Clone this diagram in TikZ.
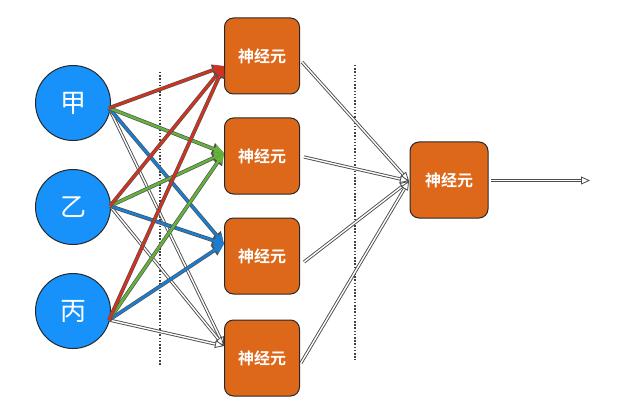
\documentclass[tikz,border=0pt]{standalone}
\usepackage{fontspec}
\newfontfamily\cjk{Noto Sans CJK SC}
\newfontfamily\cjkb{Noto Sans CJK SC Bold}
\usetikzlibrary{arrows.meta}
\definecolor{cblue}{RGB}{22,146,250}
\definecolor{borange}{RGB}{222,104,26}
\definecolor{ared}{RGB}{210,50,30}
\definecolor{agreen}{RGB}{100,180,60}
\definecolor{ablue}{RGB}{25,125,210}
\definecolor{edge}{RGB}{40,40,40}
\tikzset{
  inp/.style={circle,draw=edge,line width=1pt,fill=cblue,minimum size=75pt,inner sep=0pt,text=white,font=\cjk\fontsize{26}{26}\selectfont},
  neu/.style={rounded corners=9pt,draw=edge,line width=1pt,fill=borange,minimum width=75pt,minimum height=76pt,inner sep=0pt,text=white,font=\cjkb\fontsize{16}{16}\selectfont},
  col/.style={preaction={draw=edge!80,line width=3.8pt,-{Triangle[length=12pt,width=11pt]}},draw=#1,line width=2.4pt,-{Triangle[length=10pt,width=9pt,fill=#1]}},
  wht/.style={double=white,draw=gray!60!black,line width=0.9pt,double distance=1.4pt,-{Triangle[open,length=9pt,width=8pt,fill=white,line width=0.8pt]}},
  sep/.style={draw=gray!50!black,line width=1.3pt,dash pattern=on 1.5pt off 1.7pt},
}
\begin{document}
\begin{tikzpicture}[x=1pt,y=-1pt]
\useasboundingbox (0,0) rectangle (630,404);
\node[inp] (a) at (73,103) {甲};
\node[inp] (b) at (73,207) {乙};
\node[inp] (c) at (73,311) {丙};
\node[neu] (n1) at (262,56) {神经元};
\node[neu] (n2) at (262,156) {神经元};
\node[neu] (n3) at (262,256) {神经元};
\node[neu] (n4) at (262,358) {神经元};
\node[neu,minimum width=78pt] (o) at (449,180) {神经元};
\coordinate (sa) at (109,108);
\coordinate (sb) at (110,206);
\coordinate (sc) at (109,320);
\coordinate (t1) at (224,66);
\coordinate (t2) at (224,153);
\coordinate (t3) at (224,244);
\coordinate (t4) at (224,346);
\coordinate (u1) at (302,62);
\coordinate (u2) at (304,157);
\coordinate (u3) at (304,262);
\coordinate (u4) at (301,363);
\coordinate (to) at (409,181);
\coordinate (ostart) at (491,180.5);
\coordinate (fin) at (590,180.5);
\coordinate (d1a) at (160,72);
\coordinate (d1b) at (160,366);
\coordinate (d2a) at (355,65);
\coordinate (d2b) at (355,360);
\draw[sep] (d1a) -- (d1b);
\draw[sep] (d2a) -- (d2b);
\foreach \s in {sa,sb,sc} \draw[wht] (\s) -- (t4);
\foreach \s in {sa,sb,sc} \draw[col=ablue] (\s) -- (t3);
\foreach \s in {sa,sb,sc} \draw[col=agreen] (\s) -- (t2);
\foreach \s in {sa,sb,sc} \draw[col=ared] (\s) -- (t1);
\foreach \s in {u1,u2,u3,u4} \draw[wht] (\s) -- (to);
\draw[wht] (ostart) -- (fin);
\end{tikzpicture}
\end{document}
